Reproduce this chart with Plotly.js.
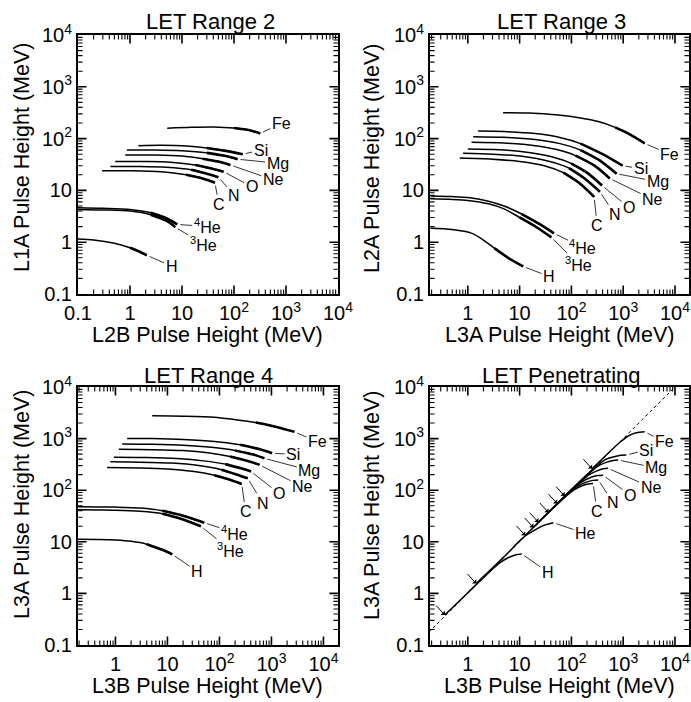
<!DOCTYPE html>
<html><head><meta charset="utf-8">
<script src="https://cdn.plot.ly/plotly-3.0.1.min.js"></script>
<style>html,body{margin:0;padding:0;background:#fff;} #chart{width:691px;height:702px;}</style>
</head><body><div id="chart"></div>
<script>
// ---------- DATA ----------
const r2Labels = ['Fe','Si','Mg','Ne','O','N','C','<sup>4</sup>He','<sup>3</sup>He','H'];
const r2X = [
  [5.2,15,40,100,200,320],
  [1.45,4,12,30,70,147],
  [0.87,3,10,30,70,117],
  [0.81,3,10,25,50,85],
  [0.52,2,6,18,40,63],
  [0.42,1.5,5,15,30,50],
  [0.29,1,4,12,25,43],
  [0.1,0.3,1,2.5,5,8.1],
  [0.1,0.3,1,2.5,5,7.4],
  [0.1,0.2,0.5,1,1.5,2.1]
];
const r2Y = [
  [158,165,168,160,145,126],
  [73,74,72,66,58,50],
  [60,60,58,53,46,40],
  [48,48,46,41,36,31],
  [36,36,35,31,26,23],
  [29,29,28,25,21,18],
  [24,24,23,20,17,14],
  [4.6,4.5,4.3,3.7,2.9,2.2],
  [4.3,4.2,4.0,3.4,2.6,1.95],
  [1.15,1.1,0.95,0.78,0.66,0.56]
];

const r3Labels = ['Fe','Si','Mg','Ne','O','N','C','<sup>4</sup>He','<sup>3</sup>He','H'];
const r3X = [
  [4.8,15,55,150,330,700,1240,2600],
  [1.58,5,20,60,150,400,970],
  [1.27,5,20,60,150,350,745],
  [1.18,5,20,50,120,280,550],
  [1.0,4,15,40,100,200,390],
  [0.81,3,12,35,90,180,355],
  [0.7,3,10,30,70,140,275],
  [0.19,0.5,1,2.5,5,11,25,46],
  [0.19,0.5,1,2.5,5,10,22,41],
  [0.19,0.5,1.2,2,3.3,6,11.7]
];
const r3Y = [
  [316,312,285,250,213,165,126,81],
  [140,137,125,105,80,50,30],
  [109,106,96,80,60,38,21],
  [85,82,73,62,47,30,17],
  [63,61,54,45,33,22,12.4],
  [52,50,45,37,27,17,9.4],
  [42,40,36,30,22,14,7.5],
  [7.8,7.6,7.3,6.2,5.0,3.5,2.2,1.48],
  [6.9,6.7,6.4,5.5,4.4,3.0,1.9,1.24],
  [1.85,1.75,1.48,1.1,0.76,0.5,0.34]
];

const r4Labels = ['Fe','Si','Mg','Ne','O','N','C','<sup>4</sup>He','<sup>3</sup>He','H'];
const r4X = [
  [5.1,20,80,190,500,1200,2770],
  [1.68,5,20,80,250,600,1030],
  [1.35,5,20,70,200,450,730],
  [1.16,5,20,60,160,350,590],
  [0.93,4,15,50,130,260,405],
  [0.8,3,12,40,110,220,350],
  [0.69,3,10,30,80,160,268],
  [0.19,0.5,1,3,8,20,51],
  [0.19,0.5,1,3,8,18,44],
  [0.19,0.5,1,2,4,8,12.4]
];
const r4Y = [
  [2760,2720,2600,2350,2050,1700,1350],
  [1010,1000,960,880,760,620,520],
  [785,775,745,680,590,490,415],
  [620,610,585,530,450,370,310],
  [435,430,410,370,320,265,230],
  [355,350,335,300,250,200,170],
  [275,270,258,232,195,160,132],
  [48,47.5,47,45,40,32,23.5],
  [42,41.5,41,39,35,28,20],
  [11.2,11.1,10.8,10.2,9.0,7.0,5.7]
];

const penLabels = ['Fe','Si','Mg','Ne','O','N','C','He','H'];
const penX = [
  [250,500,900,1300,1800,2600],
  [74,250,450,700,900,1150],
  [53,180,320,480,640,800],
  [36,130,220,320,410,510],
  [23,90,160,240,320,410],
  [18.4,70,130,200,260,330],
  [12.8,60,110,160,210,262],
  [1.45,5,12,20,30,45],
  [0.36,1,2.5,4,6,8.5,11]
];
const penY = [
  [260,510,880,1150,1300,1350],
  [77,245,390,450,475,480],
  [55,178,290,350,378,385],
  [37,128,200,240,260,265],
  [24,90,145,178,192,195],
  [19,70,118,145,155,158],
  [13.3,60,100,122,132,135],
  [1.55,5.1,12.3,17,21,23.5],
  [0.38,1.03,2.5,3.8,4.9,5.6,5.8]
];
const unityLine = [0.1, 20000];

const majorVals = [0.1,1,10,100,1000,10000];
const majorText = ['0.1','1','10','10<sup>2</sup>','10<sup>3</sup>','10<sup>4</sup>'];

const panelTitles = ['LET Range 2','LET Range 3','LET Range 4','LET Penetrating'];
const xTitles = ['L2B Pulse Height (MeV)','L3A Pulse Height (MeV)','L3B Pulse Height (MeV)','L3B Pulse Height (MeV)'];
const yTitles = ['L1A Pulse Height (MeV)','L2A Pulse Height (MeV)','L3A Pulse Height (MeV)','L3A Pulse Height (MeV)'];

// ---------- LAYOUT / STYLE ----------
const FONT = '"Liberation Sans", Arial, Helvetica, sans-serif';
const W = 691, H = 702;
const PX = p => p / W;
const PY = p => 1 - p / H;

// label offsets (pixels) for leader lines
const r2Off = [[21,-10],[18,-4],[40,4],[43,15],[28,15],[16,18],[4,22],[30,2],[28,17],[25,11]];
const r3Off = [[25,11],[18,3],[41,8],[43,21],[27,22],[15,23],[3,29],[29,14],[27,27],[26,10]];
const r4Off = [[23,10],[21,1],[45,12],[43,22],[28,22],[15,25],[4,28],[30,10],[30,24],[25,17]];
const penOff = [[20,10],[20,-5],[38,8],[43,19],[27,20],[15,23],[4,28],[32,11],[26,18]];

const minorVals = [];
for (let d = -1; d <= 4; d++) for (let m = 2; m <= 9; m++) minorVals.push(m * Math.pow(10, d));

// panel geometry in pixels
const panels = [
  {xa: 'x',  ya: 'y',  xr: [-1, 4],       yr: [-1, 4], px: [78, 338],  py: [35, 294]},
  {xa: 'x2', ya: 'y2', xr: [-0.73, 4.27], yr: [-1, 4], px: [430, 689], py: [35, 294]},
  {xa: 'x3', ya: 'y3', xr: [-0.72, 4.28], yr: [-1, 4], px: [78, 338],  py: [387, 645]},
  {xa: 'x4', ya: 'y4', xr: [-0.73, 4.27], yr: [-1, 4], px: [430, 689], py: [387, 645]}
];

function axis(domain, range, anchor) {
  return {
    type: 'log', domain: domain, range: range, anchor: anchor,
    showgrid: false, zeroline: false,
    showline: true, linecolor: 'black', linewidth: 2, mirror: true,
    ticks: '', tickmode: 'array', tickvals: majorVals, ticktext: majorText,
    tickfont: {family: FONT, size: 20, color: 'black'},
    fixedrange: true
  };
}

const layout = {
  width: W, height: H,
  margin: {l: 0, r: 0, t: 0, b: 0},
  paper_bgcolor: 'white', plot_bgcolor: 'white',
  showlegend: false,
  font: {family: FONT, color: 'black'},
  annotations: []
};
panels.forEach((p, i) => {
  const s = i === 0 ? '' : String(i + 1);
  layout['xaxis' + s] = axis([PX(p.px[0]), PX(p.px[1])], p.xr, 'y' + s);
  layout['yaxis' + s] = axis([PY(p.py[1]), PY(p.py[0])], p.yr, 'x' + s);
});

// inward tick marks on all four sides, drawn as headless annotation arrows
function addTicks(p, vals, len, width) {
  const e = 0.001;
  const base = {xref: p.xa, yref: p.ya, text: '', showarrow: true, arrowhead: 0,
    arrowwidth: width, arrowcolor: 'black', standoff: 0, startstandoff: 0, borderpad: 0};
  vals.forEach(v => {
    const lv = Math.log10(v);
    if (lv > p.xr[0] + 0.01 && lv < p.xr[1] - 0.01) {
      layout.annotations.push(Object.assign({}, base, {x: lv, y: p.yr[0] + e, ax: 0, ay: -len}));
      layout.annotations.push(Object.assign({}, base, {x: lv, y: p.yr[1] - e, ax: 0, ay: len}));
    }
    if (lv > p.yr[0] + 0.01 && lv < p.yr[1] - 0.01) {
      layout.annotations.push(Object.assign({}, base, {x: p.xr[0] + e, y: lv, ax: len, ay: 0}));
      layout.annotations.push(Object.assign({}, base, {x: p.xr[1] - e, y: lv, ax: -len, ay: 0}));
    }
  });
}
panels.forEach(p => { addTicks(p, majorVals, 9, 1.6); addTicks(p, minorVals, 5, 1.1); });

const traces = [];
function addCurves(xs, ys, xa, ya, thickTail) {
  for (let i = 0; i < xs.length; i++) {
    traces.push({x: xs[i], y: ys[i], xaxis: xa, yaxis: ya, mode: 'lines',
      line: {color: 'black', width: 1.5, shape: 'spline', smoothing: 0.8}, hoverinfo: 'skip'});
    if (thickTail) {
      const n = xs[i].length, k = Math.max(0, n - 3);
      traces.push({x: xs[i].slice(k), y: ys[i].slice(k), xaxis: xa, yaxis: ya, mode: 'lines',
        line: {color: 'black', width: 2.6, shape: 'spline', smoothing: 0.8}, hoverinfo: 'skip'});
    }
  }
}
function addLabels(xs, ys, labels, offs, xa, ya) {
  for (let i = 0; i < xs.length; i++) {
    const n = xs[i].length;
    layout.annotations.push({
      x: Math.log10(xs[i][n-1]), y: Math.log10(ys[i][n-1]), xref: xa, yref: ya,
      text: labels[i], showarrow: true, arrowhead: 0, arrowwidth: 0.8, arrowcolor: 'black',
      ax: offs[i][0], ay: offs[i][1], standoff: 3, startstandoff: 0,
      font: {family: FONT, size: 16, color: 'black'}
    });
  }
}

addCurves(r2X, r2Y, 'x', 'y', true);
addCurves(r3X, r3Y, 'x2', 'y2', true);
addCurves(r4X, r4Y, 'x3', 'y3', true);
traces.push({x: unityLine, y: unityLine, xaxis: 'x4', yaxis: 'y4', mode: 'lines',
  line: {color: 'black', width: 1, dash: 'dot'}, hoverinfo: 'skip'});
addCurves(penX, penY, 'x4', 'y4', false);

addLabels(r2X, r2Y, r2Labels, r2Off, 'x', 'y');
addLabels(r3X, r3Y, r3Labels, r3Off, 'x2', 'y2');
addLabels(r4X, r4Y, r4Labels, r4Off, 'x3', 'y3');
addLabels(penX, penY, penLabels, penOff, 'x4', 'y4');

// threshold arrows at start of each penetrating track
for (let i = 0; i < penX.length; i++) {
  layout.annotations.push({
    x: Math.log10(penX[i][0]), y: Math.log10(penY[i][0]), xref: 'x4', yref: 'y4',
    text: '', showarrow: true, arrowhead: 1, arrowsize: 1, arrowwidth: 1, arrowcolor: 'black',
    ax: -10, ay: -11, standoff: 0
  });
}

// titles
const titleCx = [210, 561, 208, 561];
const titleCy = [21, 21, 375, 375];
const xtCy = [335, 335, 686, 686];
const ytCx = [22, 372, 22, 372];
const ytCy = [158, 158, 505, 505];
for (let i = 0; i < 4; i++) {
  layout.annotations.push({xref: 'paper', yref: 'paper', x: PX(titleCx[i]), y: PY(titleCy[i]),
    xanchor: 'center', yanchor: 'middle', showarrow: false, text: panelTitles[i],
    font: {family: FONT, size: 22, color: 'black'}});
  layout.annotations.push({xref: 'paper', yref: 'paper', x: PX(i % 2 ? 559 : 207), y: PY(xtCy[i]),
    xanchor: 'center', yanchor: 'middle', showarrow: false, text: xTitles[i],
    font: {family: FONT, size: 21.5, color: 'black'}});
  layout.annotations.push({xref: 'paper', yref: 'paper', x: PX(ytCx[i]), y: PY(ytCy[i]),
    xanchor: 'center', yanchor: 'middle', showarrow: false, text: yTitles[i], textangle: -90,
    font: {family: FONT, size: 21.5, color: 'black'}});
}

Plotly.newPlot('chart', traces, layout, {staticPlot: true, displayModeBar: false});
</script>
</body></html>
